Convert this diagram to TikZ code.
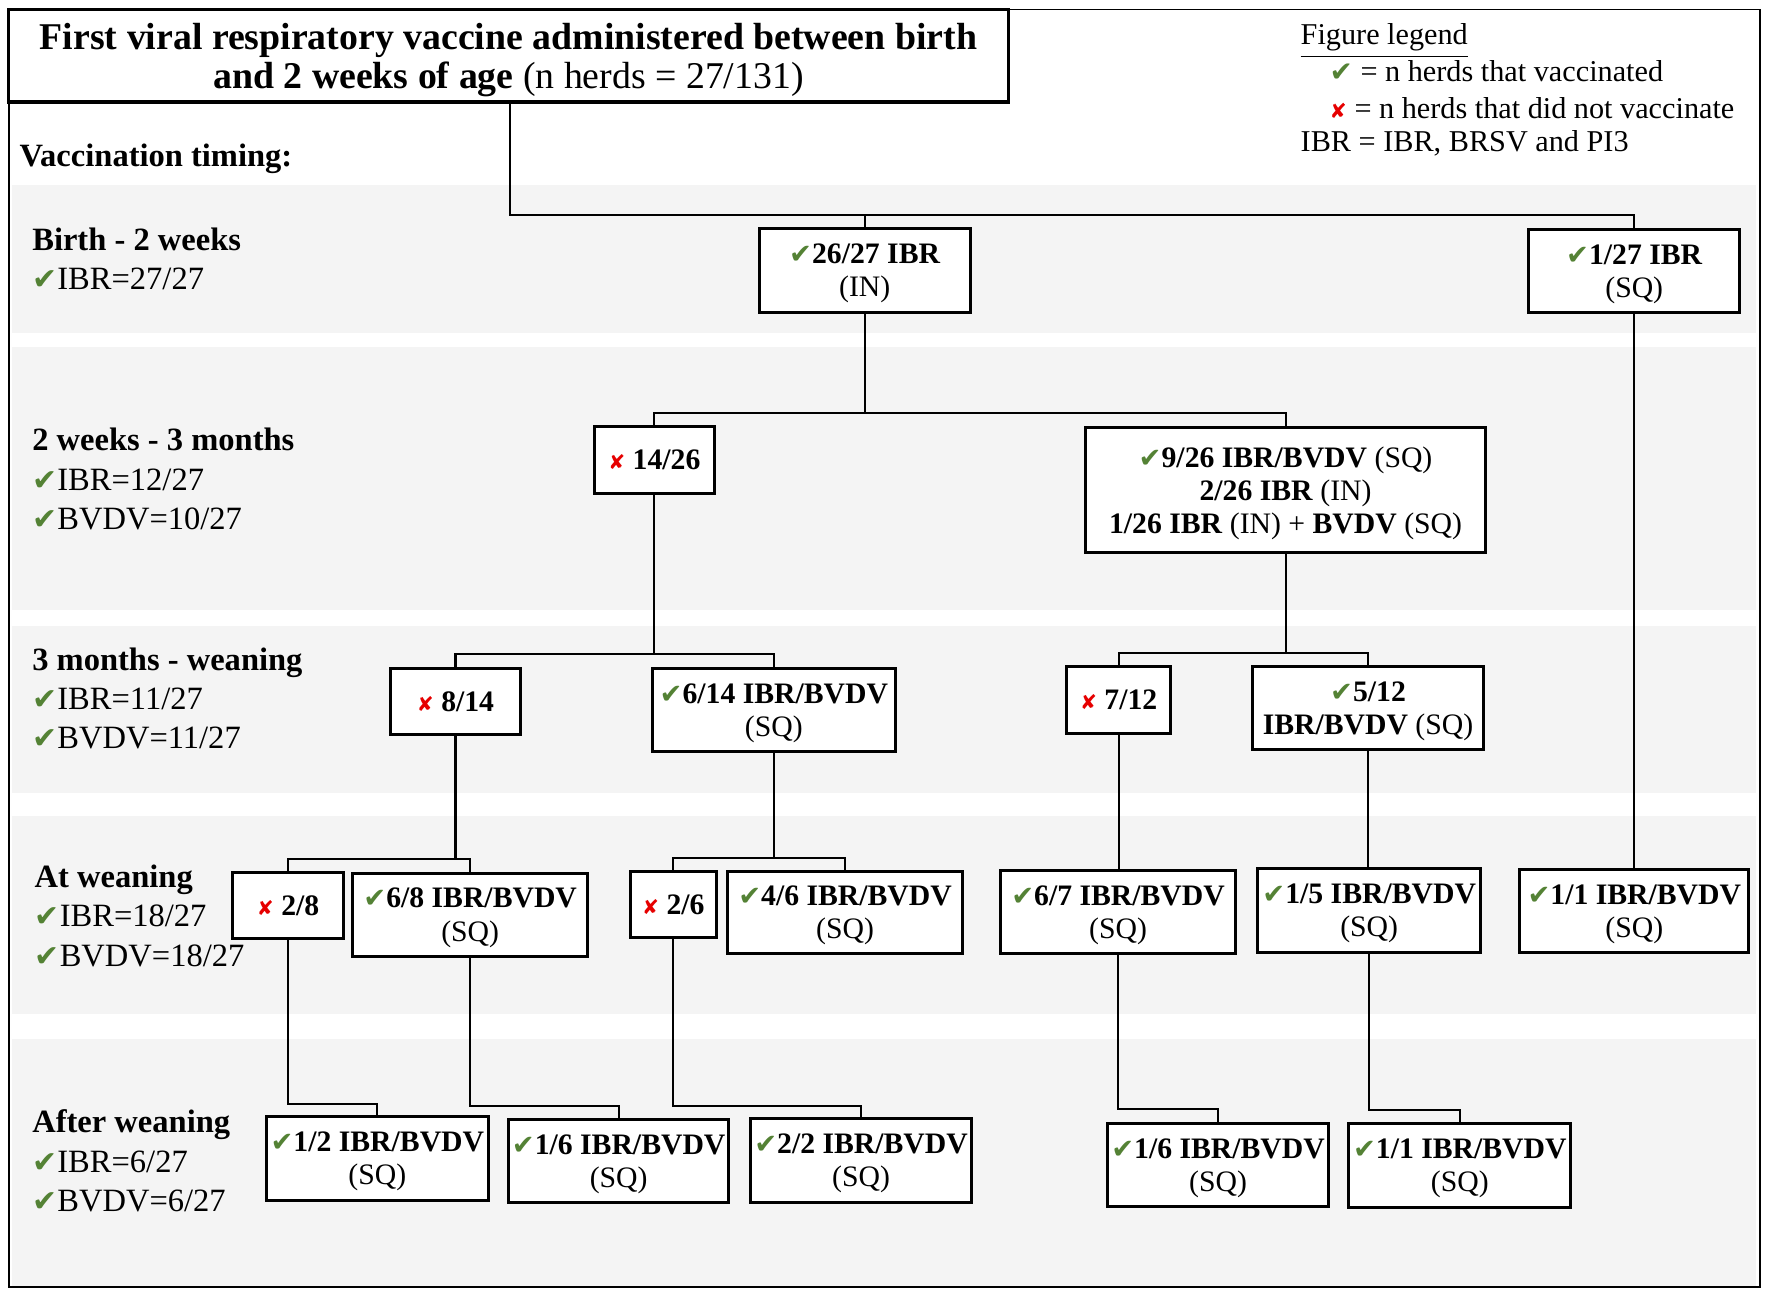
\documentclass[tikz,border=0pt]{standalone}
\usepackage{fontspec}
\setmainfont{Liberation Serif}
\newfontfamily\symfont[Scale=0.92]{DejaVu Sans}
\newfontfamily\crsfont[Scale=0.68]{DejaVu Sans}
\usetikzlibrary{positioning}
\definecolor{bandgray}{RGB}{244,244,244}
\definecolor{chkgreen}{RGB}{84,130,53}
\definecolor{crsred}{RGB}{230,0,0}
\newcommand{\chk}{{\symfont\color{chkgreen}✔}}
\newcommand{\crs}{{\crsfont\color{crsred}✘}}

\begin{document}
\begin{tikzpicture}[x=0.01cm, y=-0.01cm,
  box/.style = {draw, line width=0.85pt, fill=white, align=center, inner sep=0pt, text depth=0pt, font=\fontsize{8.45}{9.4}\selectfont},
  band/.style = {fill=bandgray},
  lab/.style = {anchor=west, align=left, inner sep=0pt, font=\fontsize{9.25}{11.2}\selectfont},
  leg/.style = {anchor=base west, inner sep=0pt, font=\fontsize{8.6}{9.9}\selectfont},
  link/.style = {line width=0.6pt}]
\useasboundingbox (0,0) rectangle (1772,1298);
% timing bands
\fill[band] (12,185) rectangle (1756,333);
\fill[band] (12,347) rectangle (1756,610);
\fill[band] (12,626) rectangle (1756,793);
\fill[band] (12,816) rectangle (1756,1014);
\fill[band] (12,1039) rectangle (1756,1286);
\draw[line width=0.45pt] (9,9.5) rectangle (1760,1287);

% title and legend
\node[box, line width=1pt, minimum width=9.99cm, minimum height=0.925cm, font=\fontsize{10.75}{11.2}\selectfont] (title) at (508.5,55.75) {\textbf{First viral respiratory vaccine administered between birth}\\\textbf{and 2 weeks of age} (n herds = 27/131)};
\node[leg] (leg0) at (1300,45) {\underline{Figure legend}};
\node[leg] (leg1) at (1329,82) {\chk{} = n herds that vaccinated};
\node[leg] (leg2) at (1329,119) {\crs{} = n herds that did not vaccinate};
\node[leg] (leg3) at (1300,152) {IBR = IBR, BRSV and PI3};

% timing labels
\node[lab] (vt) at (19,159) {\textbf{Vaccination timing:}};
\node[lab] (t1) at (31.6,258.8) {\textbf{Birth - 2 weeks}\\\chk IBR=27/27};
\node[lab] (t2) at (31.6,479) {\textbf{2 weeks - 3 months}\\\chk IBR=12/27\\\chk BVDV=10/27};
\node[lab] (t3) at (31.6,698.4) {\textbf{3 months - weaning}\\\chk IBR=11/27\\\chk BVDV=11/27};
\node[lab] (t4) at (34,915.8) {\textbf{At weaning}\\\chk IBR=18/27\\\chk BVDV=18/27};
\node[lab] (t5) at (31.6,1161) {\textbf{After weaning}\\\chk IBR=6/27\\\chk BVDV=6/27};

% birth - 2 weeks
\node[box, minimum width=2.105cm, minimum height=0.83cm] (ibrin) at (864.75,270.5) {\chk\textbf{26/27 IBR}\\(IN)};
\node[box, minimum width=2.105cm, minimum height=0.83cm] (ibrsq) at (1634.25,271.3) {\chk\textbf{1/27 IBR}\\(SQ)};
% 2 weeks - 3 months
\node[box, minimum width=1.193cm, minimum height=0.66cm] (no1426) at (654.35,460) {\crs\ \textbf{14/26}};
\node[box, minimum width=4.005cm, minimum height=1.254cm] (mix26) at (1285.55,490) {\chk\textbf{9/26 IBR/BVDV} (SQ)\\\textbf{2/26 IBR} (IN)\\\textbf{1/26 IBR} (IN) + \textbf{BVDV} (SQ)};
% 3 months - weaning
\node[box, minimum width=1.29cm, minimum height=0.66cm] (no814) at (455.5,701.7) {\crs\ \textbf{8/14}};
\node[box, minimum width=2.423cm, minimum height=0.82cm] (yes614) at (773.85,710) {\chk\textbf{6/14 IBR/BVDV}\\(SQ)};
\node[box, minimum width=1.041cm, minimum height=0.666cm] (no712) at (1118.65,700) {\crs\ \textbf{7/12}};
\node[box, minimum width=2.30cm, minimum height=0.83cm] (yes512) at (1368,708.2) {\chk\textbf{5/12}\\\textbf{IBR/BVDV} (SQ)};
% at weaning
\node[box, minimum width=1.103cm, minimum height=0.66cm] (no28) at (288.15,905.7) {\crs\ \textbf{2/8}};
\node[box, minimum width=2.353cm, minimum height=0.827cm] (yes68) at (470.15,914.65) {\chk\textbf{6/8 IBR/BVDV}\\(SQ)};
\node[box, minimum width=0.861cm, minimum height=0.664cm] (no26) at (673.35,904.5) {\crs\ \textbf{2/6}};
\node[box, minimum width=2.355cm, minimum height=0.824cm] (yes46) at (845.05,912.5) {\chk\textbf{4/6 IBR/BVDV}\\(SQ)};
\node[box, minimum width=2.349cm, minimum height=0.827cm] (yes67) at (1118.05,912.35) {\chk\textbf{6/7 IBR/BVDV}\\(SQ)};
\node[box, minimum width=2.23cm, minimum height=0.836cm] (yes15) at (1369.2,910.5) {\chk\textbf{1/5 IBR/BVDV}\\(SQ)};
\node[box, minimum width=2.286cm, minimum height=0.827cm] (yes11) at (1634.3,911.35) {\chk\textbf{1/1 IBR/BVDV}\\(SQ)};
% after weaning
\node[box, minimum width=2.213cm, minimum height=0.833cm] (yes12) at (377.35,1158.35) {\chk\textbf{1/2 IBR/BVDV}\\(SQ)};
\node[box, minimum width=2.203cm, minimum height=0.834cm] (yes16a) at (618.65,1161) {\chk\textbf{1/6 IBR/BVDV}\\(SQ)};
\node[box, minimum width=2.215cm, minimum height=0.833cm] (yes22) at (861.05,1160.35) {\chk\textbf{2/2 IBR/BVDV}\\(SQ)};
\node[box, minimum width=2.215cm, minimum height=0.834cm] (yes16b) at (1218.05,1165) {\chk\textbf{1/6 IBR/BVDV}\\(SQ)};
\node[box, minimum width=2.216cm, minimum height=0.833cm] (yes11b) at (1459.8,1165.65) {\chk\textbf{1/1 IBR/BVDV}\\(SQ)};

% links
\coordinate (j0) at (510,215);
\draw[link] (title.south -| j0) -- (j0) -| (ibrsq.north);
\draw[link] (j0 -| ibrin) -- (ibrin.north);
\coordinate (j1) at (864.75,413);
\draw[link] (ibrin.south) -- (j1);
\draw[link] (no1426.north) |- (j1) -| (mix26.north);
\coordinate (j2) at (654.35,654.3);
\draw[link] (no1426.south) -- (j2);
\draw[link] (no814.north) |- (j2) -| (yes614.north);
\coordinate (j3) at (1285.55,652.7);
\draw[link] (mix26.south) -- (j3);
\draw[link] (no712.north) |- (j3) -| (yes512.north);
\coordinate (j4) at (455.5,859);
\draw[link] (no814.south) -- (j4);
\draw[link] (no28.north) |- (j4) -| (yes68.north);
\coordinate (j5) at (773.85,858);
\draw[link] (yes614.south) -- (j5);
\draw[link] (no26.north) |- (j5) -| (yes46.north);
\draw[link] (no712.south) -- (no712.south |- yes67.north);
\draw[link] (yes512.south) -- (yes512.south |- yes15.north);
\draw[link] (ibrsq.south) -- (ibrsq.south |- yes11.north);
\coordinate (e1) at (377.35,1103.7);
\draw[link] (no28.south) |- (e1) -- (yes12.north);
\coordinate (e2) at (618.65,1106.3);
\draw[link] (yes68.south) |- (e2) -- (yes16a.north);
\coordinate (e3) at (861.05,1105.7);
\draw[link] (no26.south) |- (e3) -- (yes22.north);
\coordinate (e4) at (1218.05,1109.3);
\draw[link] (yes67.south) |- (e4) -- (yes16b.north);
\coordinate (e5) at (1459.8,1110);
\draw[link] (yes15.south) |- (e5) -- (yes11b.north);
\end{tikzpicture}
\end{document}
